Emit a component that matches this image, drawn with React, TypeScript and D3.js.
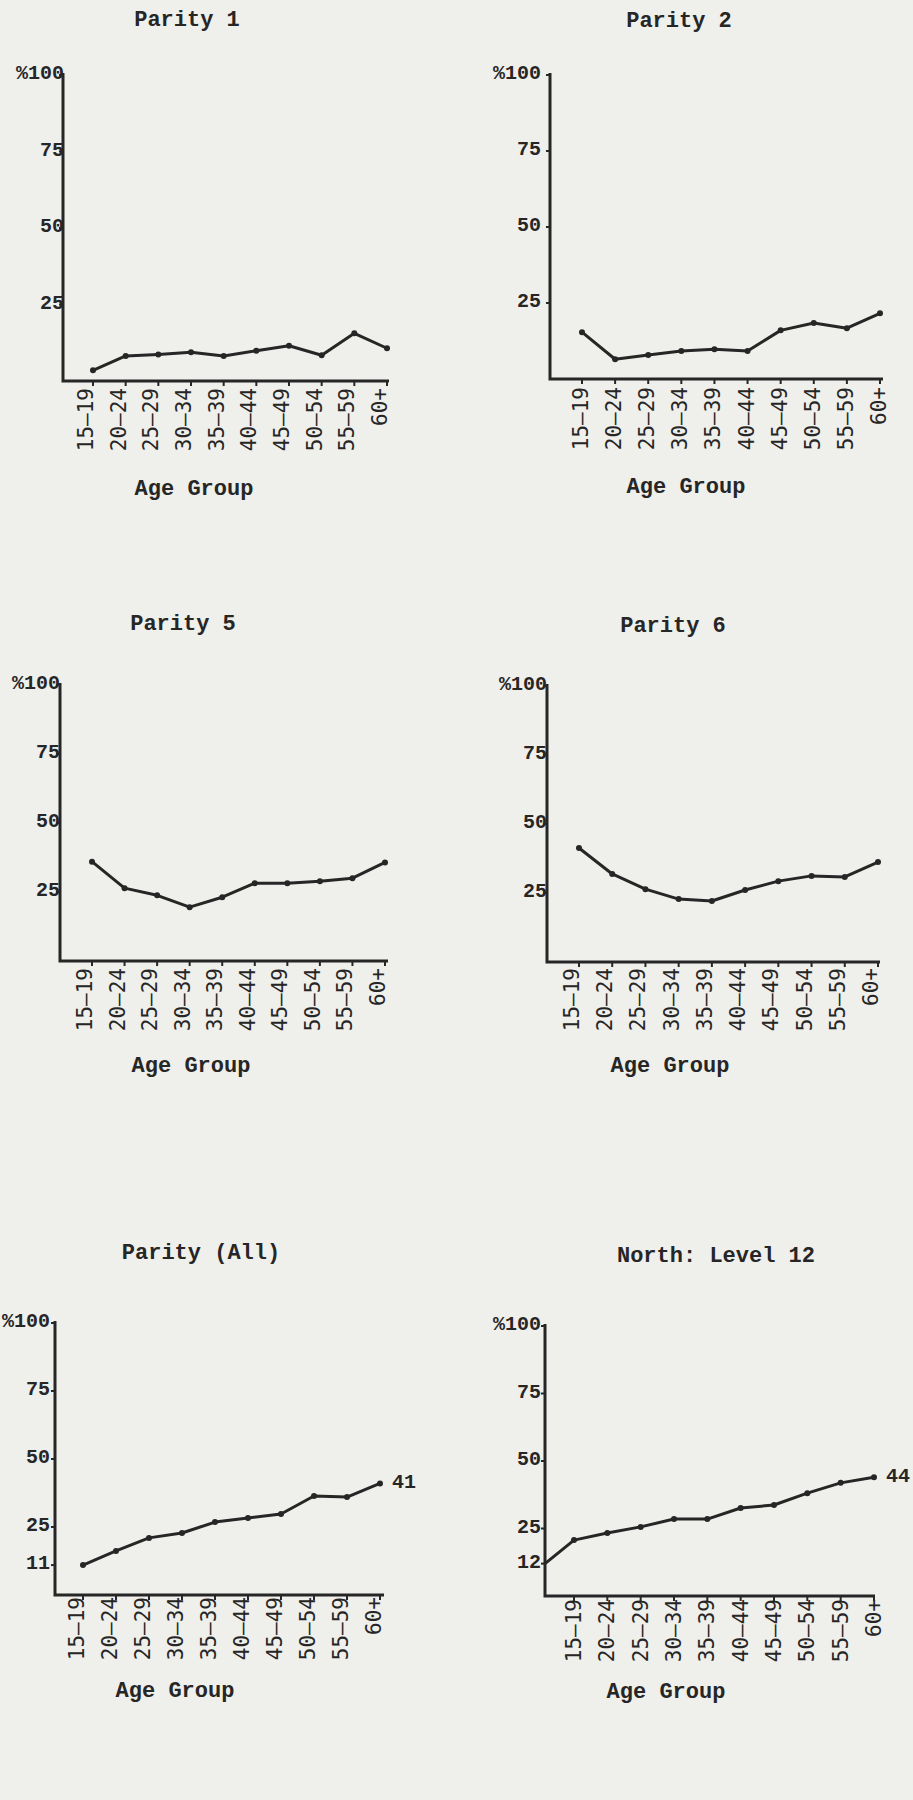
import React from 'react';
import * as d3 from 'd3';

// age groups along the x axis
const ageGroups = ['15–19', '20–24', '25–29', '30–34', '35–39', '40–44', '45–49', '50–54', '55–59', '60+'];

// percent values
const parity1 = [3.5, 8.2, 8.7, 9.4, 8.2, 9.9, 11.5, 8.4, 15.6, 10.7];
const parity2 = [15.4, 6.5, 7.9, 9.2, 9.8, 9.2, 16, 18.4, 16.7, 21.6];
const parity5 = [36, 26.4, 23.8, 19.5, 23.1, 28.2, 28.2, 28.9, 30, 35.7];
const parity6 = [41.3, 31.9, 26.4, 22.8, 22.1, 26.1, 29.3, 31.2, 30.8, 36.2];
const parityAll = [11, 16.2, 21, 22.8, 26.8, 28.3, 29.8, 36.4, 36, 41];
const northLevel12 = [20.7, 23.3, 25.6, 28.5, 28.5, 32.6, 33.7, 38.1, 41.9, 44];
const northStart = 12; // value where the North line leaves the y axis

const yTicks = [100, 75, 50, 25];
const yTicksAll = [100, 75, 50, 25, 11];
const yTicksNorth = [100, 75, 50, 25, 12];

const INK = '#262626';
const PAPER = '#efefeb';
const TYPE = '"Liberation Mono", "Courier New", monospace';
const GOTHIC = '"DejaVu Sans Mono", monospace';

type Panel = {
  title: string;
  values: number[];
  ticks: number[];
  axisX: number; y0: number; y100: number; xEnd: number;
  x1: number; x2: number;
  titleX: number; titleY: number; ageX: number; ageY: number;
  yLabelDx: number; xLabelGap: number; xLabelShift: number;
  endLabel?: boolean; start?: number;
};

const panels: Panel[] = [
  { title: 'Parity 1', values: parity1, ticks: yTicks, axisX: 63, y0: 381, y100: 75, xEnd: 389, x1: 93, x2: 387,
    titleX: 187, titleY: 26, ageX: 194, ageY: 495, yLabelDx: 1, xLabelGap: 7, xLabelShift: 0 },
  { title: 'Parity 2', values: parity2, ticks: yTicks, axisX: 550, y0: 379, y100: 75, xEnd: 883, x1: 582, x2: 880,
    titleX: 679, titleY: 27, ageX: 686, ageY: 493, yLabelDx: -9, xLabelGap: 8, xLabelShift: 6 },
  { title: 'Parity 5', values: parity5, ticks: yTicks, axisX: 60, y0: 961, y100: 685, xEnd: 388, x1: 92, x2: 385,
    titleX: 183, titleY: 630, ageX: 191, ageY: 1072, yLabelDx: 0, xLabelGap: 7, xLabelShift: 0 },
  { title: 'Parity 6', values: parity6, ticks: yTicks, axisX: 547, y0: 962, y100: 686, xEnd: 880, x1: 579, x2: 878,
    titleX: 673, titleY: 632, ageX: 670, ageY: 1072, yLabelDx: 0, xLabelGap: 6, xLabelShift: 0 },
  { title: 'Parity (All)', values: parityAll, ticks: yTicksAll, axisX: 55, y0: 1595, y100: 1323, xEnd: 384, x1: 83, x2: 380,
    titleX: 201, titleY: 1259, ageX: 175, ageY: 1697, yLabelDx: -5, xLabelGap: 2, xLabelShift: 1, endLabel: true },
  { title: 'North: Level 12', values: northLevel12, ticks: yTicksNorth, axisX: 545, y0: 1596, y100: 1326, xEnd: 875, x1: 574, x2: 874,
    titleX: 716, titleY: 1262, ageX: 666, ageY: 1698, yLabelDx: -4, xLabelGap: 3, xLabelShift: 7, endLabel: true, start: northStart },
];

function Chart({ p }: { p: Panel }) {
  const x = d3.scalePoint<string>().domain(ageGroups).range([p.x1, p.x2]);
  const y = d3.scaleLinear().domain([0, 100]).range([p.y0, p.y100]);

  const pts: [number, number][] = p.values.map((v, i) => [x(ageGroups[i]) as number, y(v)]);
  const linePts: [number, number][] = p.start !== undefined ? [[p.axisX, y(p.start)], ...pts] : pts;
  const line = d3.line()(linePts) || '';
  const last = pts[pts.length - 1];
  const lastVal = p.values[p.values.length - 1];

  return (
    <g>
      <text x={p.titleX} y={p.titleY} textAnchor="middle" fontFamily={TYPE} fontWeight="bold" fontSize={22} fill={INK}>
        {p.title}
      </text>
      {/* axes */}
      <path d={`M${p.axisX},${y(100) - 2}V${p.y0}H${p.xEnd}`} fill="none" stroke={INK} strokeWidth={3} />
      {p.ticks.map(t => (
        <g key={t}>
          <line x1={p.axisX - 4} x2={p.axisX} y1={y(t)} y2={y(t)} stroke={INK} strokeWidth={2} />
          <text x={p.axisX + p.yLabelDx} y={y(t) + 4} textAnchor="end" fontFamily={TYPE} fontWeight="bold" fontSize={20} fill={INK}>
            {t === 100 ? '%100' : t}
          </text>
        </g>
      ))}
      {ageGroups.map(g => {
        const tx = x(g) as number;
        return (
          <g key={g}>
            <line x1={tx} x2={tx} y1={p.y0} y2={p.y0 + 5} stroke={INK} strokeWidth={2} />
            <text transform={`translate(${tx + p.xLabelShift},${p.y0 + p.xLabelGap}) rotate(-90)`} textAnchor="end"
              fontFamily={GOTHIC} fontSize={21} fill={INK}>
              {g}
            </text>
          </g>
        );
      })}
      <path d={line} fill="none" stroke={INK} strokeWidth={3} strokeLinejoin="round" strokeLinecap="round" />
      {pts.map((d, i) => <circle key={i} cx={d[0]} cy={d[1]} r={3} fill={INK} />)}
      {p.endLabel && (
        <text x={last[0] + 12} y={y(lastVal) + 5} fontFamily={TYPE} fontWeight="bold" fontSize={20} fill={INK}>
          {Math.round(lastVal)}
        </text>
      )}
      <text x={p.ageX} y={p.ageY} textAnchor="middle" fontFamily={TYPE} fontWeight="bold" fontSize={22} fill={INK}>
        Age Group
      </text>
    </g>
  );
}

export default function App() {
  return (
    <svg width={913} height={1800} style={{ position: 'absolute', left: 0, top: 0, background: PAPER }}>
      <rect width={913} height={1800} fill={PAPER} />
      {panels.map(p => <Chart key={p.title} p={p} />)}
    </svg>
  );
}
